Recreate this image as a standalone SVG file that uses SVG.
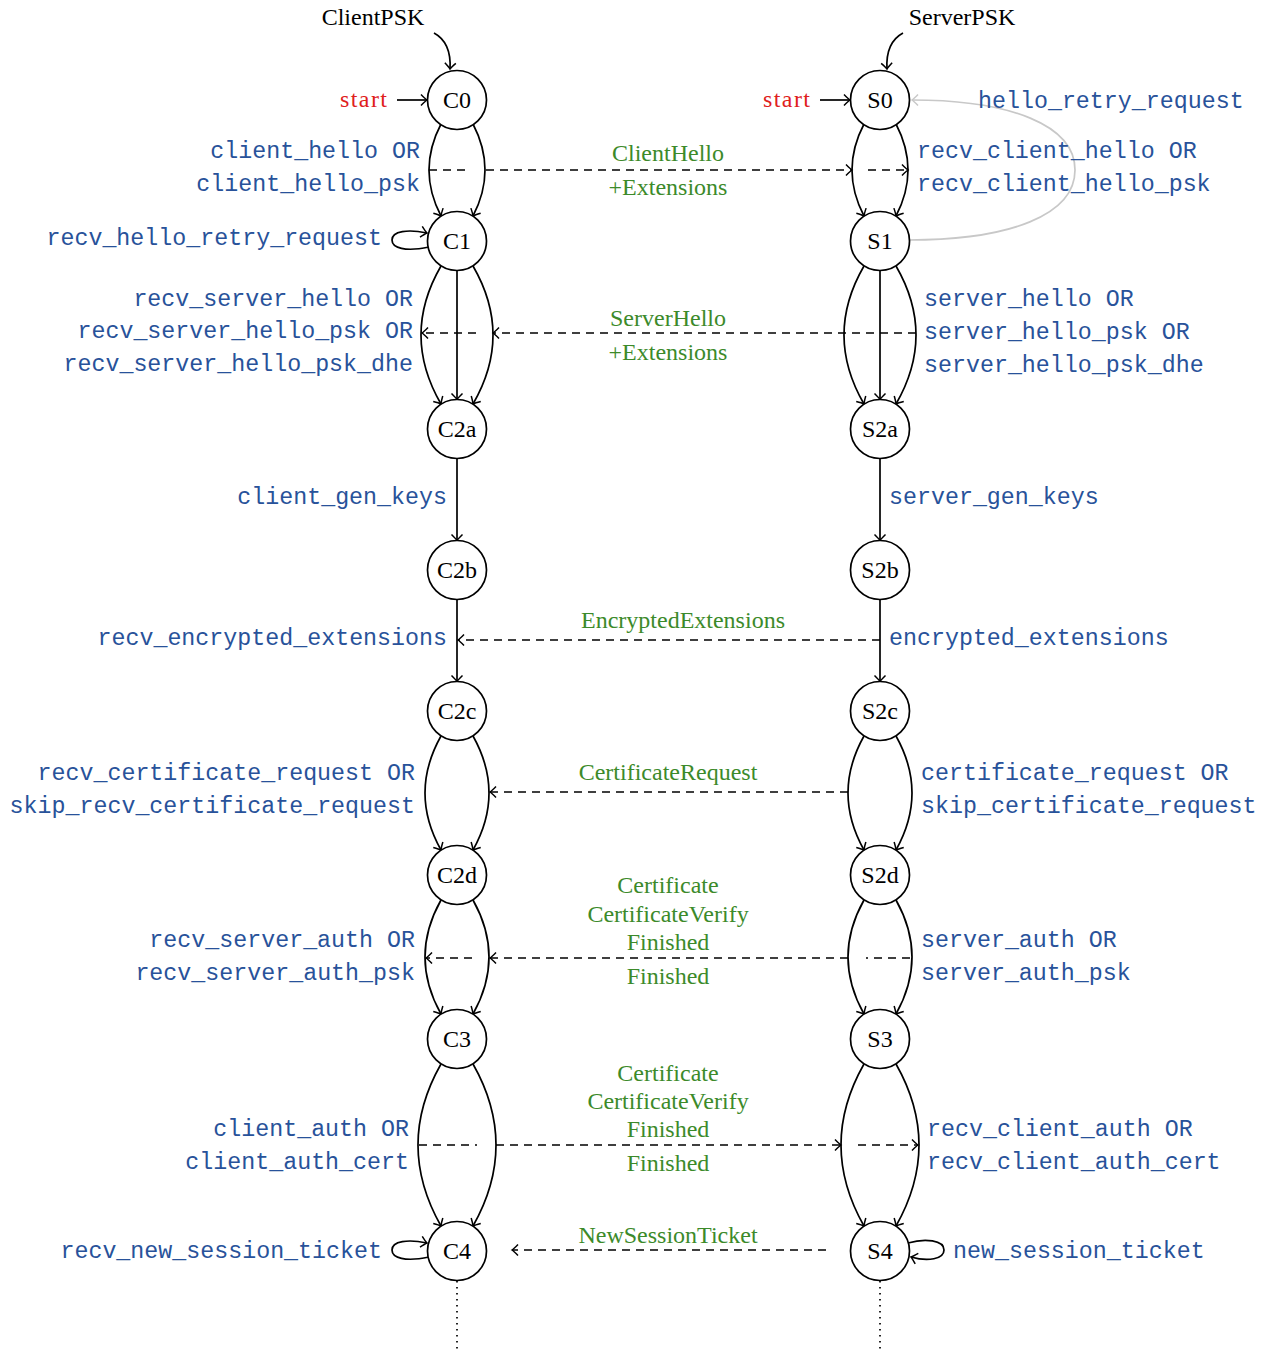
<svg xmlns="http://www.w3.org/2000/svg" width="1267" height="1351" viewBox="0 0 1267 1351">
<style>
.bg{fill:#ffffff}
.node circle{fill:#ffffff;stroke:#000;stroke-width:1.7}
.node text{font-family:"Liberation Serif",serif;font-size:24px;fill:#000;text-anchor:middle}
.e{fill:none;stroke:#000;stroke-width:1.7}
.d{fill:none;stroke:#000;stroke-width:1.7;stroke-dasharray:8,6}
.dot{fill:none;stroke:#000;stroke-width:1.7;stroke-dasharray:1.5,4.5}
.g{fill:none;stroke:#c8c8c8;stroke-width:1.7}
.a{marker-end:url(#ah)}
.ag{marker-end:url(#ahg)}
.lab{font-family:"Liberation Mono",monospace;font-size:23.3px;fill:#28529a}
.l{text-anchor:end}
.msg{font-family:"Liberation Serif",serif;font-size:24px;fill:#3c8a2a;text-anchor:middle}
.psk{font-family:"Liberation Serif",serif;font-size:24px;fill:#000;text-anchor:middle}
.start{font-family:"Liberation Serif",serif;font-size:24px;fill:#e0201b;text-anchor:end}
</style>
<defs>
<marker id="ah" markerUnits="userSpaceOnUse" markerWidth="16" markerHeight="16" viewBox="-8 -8 16 16" refX="0" refY="0" orient="auto" overflow="visible">
<path d="M-6,-5.5 Q-1.8,-1.2 0,0 Q-1.8,1.2 -6,5.5" fill="none" stroke="#000" stroke-width="1.5" stroke-dasharray="none"/>
</marker>
<marker id="ahg" markerUnits="userSpaceOnUse" markerWidth="16" markerHeight="16" viewBox="-8 -8 16 16" refX="0" refY="0" orient="auto" overflow="visible">
<path d="M-6,-5.5 Q-1.8,-1.2 0,0 Q-1.8,1.2 -6,5.5" fill="none" stroke="#c8c8c8" stroke-width="1.5"/>
</marker>
</defs>
<rect class="bg" x="0" y="0" width="1267" height="1351"/>

<g id="connectors">
<!-- initial arrows -->
<path class="e a" d="M434,33 C447,40 451,52 450,69"/>
<path class="e a" d="M903,33 C890,40 886,52 887,69"/>
<path class="e a" d="M397,100 L427,100"/>
<path class="e a" d="M820,100 L850,100"/>
<!-- client transitions -->
<path class="e a" d="M441,124 Q417,170 441,216"/>
<path class="e a" d="M473,124 Q497,170 473,216"/>
<path class="e a" d="M429,247 C405,252 392,248 392,240 C392,231 408,229 427,233"/>
<path class="e a" d="M441,266 Q401,335 441,404"/>
<path class="e a" d="M457,270.5 L457,399.5"/>
<path class="e a" d="M473,266 Q513,335 473,404"/>
<path class="e a" d="M457,458.5 L457,540.5"/>
<path class="e a" d="M457,599.5 L457,681.5"/>
<path class="e a" d="M441,736 Q409,793 441,850"/>
<path class="e a" d="M473,736 Q505,793 473,850"/>
<path class="e a" d="M441,900 Q409,957 441,1014"/>
<path class="e a" d="M473,900 Q505,957 473,1014"/>
<path class="e a" d="M441,1064 Q395,1145 441,1226"/>
<path class="e a" d="M473,1064 Q519,1145 473,1226"/>
<path class="e a" d="M429,1257 C405,1262 392,1258 392,1250 C392,1241 408,1239 427,1243"/>
<path class="dot" d="M457,1281 L457,1350"/>
<!-- server transitions -->
<path class="e a" d="M864,124 Q840,170 864,216"/>
<path class="e a" d="M896,124 Q920,170 896,216"/>
<path class="g ag" d="M909,240 C1010,240 1075,215 1075,170 C1075,125 1010,100 912,100"/>
<path class="e a" d="M864,266 Q824,335 864,404"/>
<path class="e a" d="M880,270.5 L880,399.5"/>
<path class="e a" d="M896,266 Q936,335 896,404"/>
<path class="e a" d="M880,458.5 L880,540.5"/>
<path class="e a" d="M880,599.5 L880,681.5"/>
<path class="e a" d="M864,736 Q832,793 864,850"/>
<path class="e a" d="M896,736 Q928,793 896,850"/>
<path class="e a" d="M864,900 Q832,957 864,1014"/>
<path class="e a" d="M896,900 Q928,957 896,1014"/>
<path class="e a" d="M864,1064 Q818,1145 864,1226"/>
<path class="e a" d="M896,1064 Q942,1145 896,1226"/>
<path class="e a" d="M908,1243 C925,1238 944,1240 944,1250 C944,1259 928,1262 911,1257"/>
<path class="dot" d="M880,1281 L880,1350"/>
<!-- messages -->
<path class="d" d="M429,170 L466,170"/>
<path class="d a" d="M486,170 L852,170"/>
<path class="d a" d="M868,170 L908,170"/>
<path class="d a" d="M916,333 L493,333"/>
<path class="d a" d="M476,333 L422,333"/>
<path class="d a" d="M880,640 L458,640"/>
<path class="d a" d="M848,792 L490,792"/>
<path class="d" d="M910,958 L866,958"/>
<path class="d a" d="M848,958 L490,958"/>
<path class="d a" d="M472,958 L426,958"/>
<path class="d" d="M419,1145 L477,1145"/>
<path class="d a" d="M496,1145 L841,1145"/>
<path class="d a" d="M858,1145 L918,1145"/>
<path class="d a" d="M826,1250 L512,1250"/>
</g>

<g id="C0" class="node"><circle cx="457" cy="100" r="29.5"/><text x="457" y="108">C0</text></g>
<g id="C1" class="node"><circle cx="457" cy="241" r="29.5"/><text x="457" y="249">C1</text></g>
<g id="C2a" class="node"><circle cx="457" cy="429" r="29.5"/><text x="457" y="437">C2a</text></g>
<g id="C2b" class="node"><circle cx="457" cy="570" r="29.5"/><text x="457" y="578">C2b</text></g>
<g id="C2c" class="node"><circle cx="457" cy="711" r="29.5"/><text x="457" y="719">C2c</text></g>
<g id="C2d" class="node"><circle cx="457" cy="875" r="29.5"/><text x="457" y="883">C2d</text></g>
<g id="C3" class="node"><circle cx="457" cy="1039" r="29.5"/><text x="457" y="1047">C3</text></g>
<g id="C4" class="node"><circle cx="457" cy="1251" r="29.5"/><text x="457" y="1259">C4</text></g>

<g id="S0" class="node"><circle cx="880" cy="100" r="29.5"/><text x="880" y="108">S0</text></g>
<g id="S1" class="node"><circle cx="880" cy="241" r="29.5"/><text x="880" y="249">S1</text></g>
<g id="S2a" class="node"><circle cx="880" cy="429" r="29.5"/><text x="880" y="437">S2a</text></g>
<g id="S2b" class="node"><circle cx="880" cy="570" r="29.5"/><text x="880" y="578">S2b</text></g>
<g id="S2c" class="node"><circle cx="880" cy="711" r="29.5"/><text x="880" y="719">S2c</text></g>
<g id="S2d" class="node"><circle cx="880" cy="875" r="29.5"/><text x="880" y="883">S2d</text></g>
<g id="S3" class="node"><circle cx="880" cy="1039" r="29.5"/><text x="880" y="1047">S3</text></g>
<g id="S4" class="node"><circle cx="880" cy="1251" r="29.5"/><text x="880" y="1259">S4</text></g>

<g id="labels">
<text class="psk" x="373" y="25">ClientPSK</text>
<text class="psk" x="962" y="25">ServerPSK</text>
<text class="start" x="387" y="107" textLength="47" lengthAdjust="spacing">start</text>
<text class="start" x="810" y="107" textLength="47" lengthAdjust="spacing">start</text>

<text class="lab l" x="420" y="158">client_hello OR</text>
<text class="lab l" x="420" y="191">client_hello_psk</text>
<text class="lab l" x="382" y="245">recv_hello_retry_request</text>
<text class="lab l" x="413" y="306">recv_server_hello OR</text>
<text class="lab l" x="413" y="338">recv_server_hello_psk OR</text>
<text class="lab l" x="413" y="371">recv_server_hello_psk_dhe</text>
<text class="lab l" x="447" y="504">client_gen_keys</text>
<text class="lab l" x="447" y="645">recv_encrypted_extensions</text>
<text class="lab l" x="415" y="780">recv_certificate_request OR</text>
<text class="lab l" x="415" y="813">skip_recv_certificate_request</text>
<text class="lab l" x="415" y="947">recv_server_auth OR</text>
<text class="lab l" x="415" y="980">recv_server_auth_psk</text>
<text class="lab l" x="409" y="1136">client_auth OR</text>
<text class="lab l" x="409" y="1169">client_auth_cert</text>
<text class="lab l" x="382" y="1258">recv_new_session_ticket</text>

<text class="lab" x="978" y="108">hello_retry_request</text>
<text class="lab" x="917" y="158">recv_client_hello OR</text>
<text class="lab" x="917" y="191">recv_client_hello_psk</text>
<text class="lab" x="924" y="306">server_hello OR</text>
<text class="lab" x="924" y="339">server_hello_psk OR</text>
<text class="lab" x="924" y="372">server_hello_psk_dhe</text>
<text class="lab" x="889" y="504">server_gen_keys</text>
<text class="lab" x="889" y="645">encrypted_extensions</text>
<text class="lab" x="921" y="780">certificate_request OR</text>
<text class="lab" x="921" y="813">skip_certificate_request</text>
<text class="lab" x="921" y="947">server_auth OR</text>
<text class="lab" x="921" y="980">server_auth_psk</text>
<text class="lab" x="927" y="1136">recv_client_auth OR</text>
<text class="lab" x="927" y="1169">recv_client_auth_cert</text>
<text class="lab" x="953" y="1258">new_session_ticket</text>

<text class="msg" x="668" y="161">ClientHello</text>
<text class="msg" x="668" y="195">+Extensions</text>
<text class="msg" x="668" y="326">ServerHello</text>
<text class="msg" x="668" y="360">+Extensions</text>
<text class="msg" x="683" y="628">EncryptedExtensions</text>
<text class="msg" x="668" y="780">CertificateRequest</text>
<text class="msg" x="668" y="893">Certificate</text>
<text class="msg" x="668" y="922">CertificateVerify</text>
<text class="msg" x="668" y="950">Finished</text>
<text class="msg" x="668" y="984">Finished</text>
<text class="msg" x="668" y="1081">Certificate</text>
<text class="msg" x="668" y="1109">CertificateVerify</text>
<text class="msg" x="668" y="1137">Finished</text>
<text class="msg" x="668" y="1171">Finished</text>
<text class="msg" x="668" y="1243">NewSessionTicket</text>
</g>
</svg>
